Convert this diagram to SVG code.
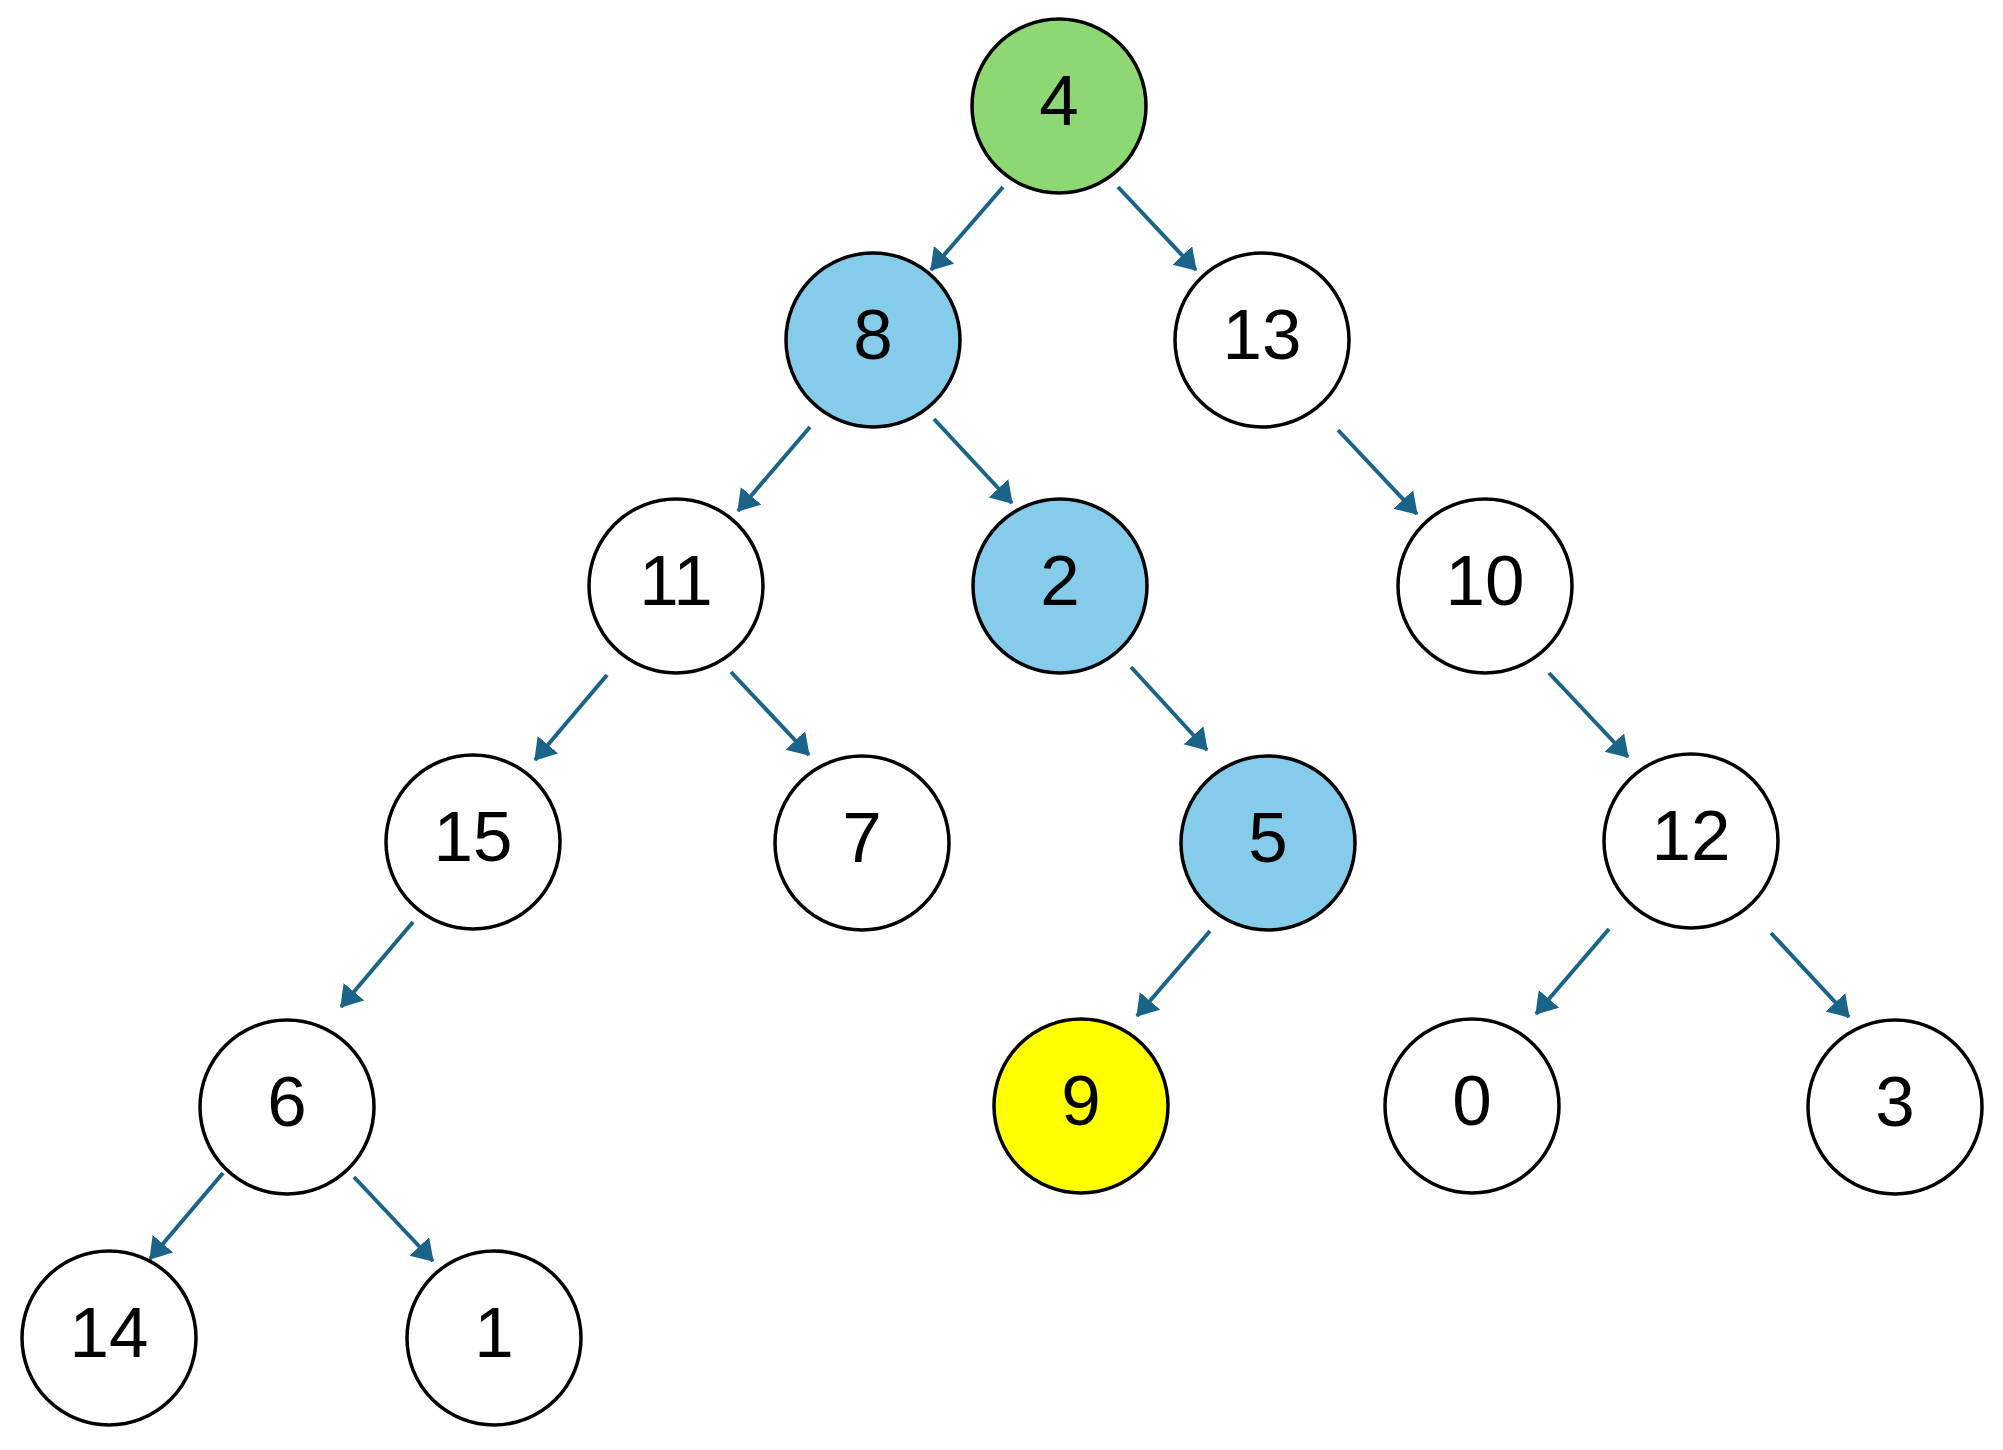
<svg xmlns="http://www.w3.org/2000/svg" width="2003" height="1450" viewBox="0 0 2003 1450">
<style>
.n{stroke:#000;stroke-width:3.5}
.w{fill:#fff}
.g{fill:#8ed873}
.b{fill:#85cbea}
.y{fill:#ffff00}
.t{font-family:"Liberation Sans",Arial,sans-serif;font-size:71px;text-anchor:middle;fill:#000}
.e{stroke:#1a6389;stroke-width:4;fill:none;marker-end:url(#ah)}
</style>
<defs>
<marker id="ah" markerUnits="userSpaceOnUse" markerWidth="22" markerHeight="28" refX="20" refY="13.5" orient="auto">
<path d="M0,0 L21,13.5 L0,27 Z" fill="#1a6389"/>
</marker>
</defs>
<rect width="2003" height="1450" fill="#fff"/>
<g id="edges">
<line class="e" x1="1003" y1="187" x2="931" y2="270"/>
<line class="e" x1="1118" y1="187" x2="1196" y2="270"/>
<line class="e" x1="810" y1="427" x2="738" y2="511"/>
<line class="e" x1="934" y1="419" x2="1012" y2="503"/>
<line class="e" x1="1338" y1="430" x2="1417" y2="514"/>
<line class="e" x1="607" y1="675" x2="535" y2="760"/>
<line class="e" x1="731" y1="672" x2="809" y2="755"/>
<line class="e" x1="1131" y1="667" x2="1207" y2="750"/>
<line class="e" x1="1549" y1="673" x2="1628" y2="757"/>
<line class="e" x1="413" y1="922" x2="341" y2="1007"/>
<line class="e" x1="1210" y1="931" x2="1137" y2="1016"/>
<line class="e" x1="1609" y1="929" x2="1536" y2="1014"/>
<line class="e" x1="1771" y1="933" x2="1849" y2="1017"/>
<line class="e" x1="223" y1="1173" x2="150" y2="1259"/>
<line class="e" x1="354" y1="1177" x2="433" y2="1261"/>
</g>
<g id="n4"><circle class="n g" cx="1059" cy="106" r="87"/><text class="t" x="1059" y="125">4</text></g>
<g id="n8"><circle class="n b" cx="873" cy="340" r="87"/><text class="t" x="873" y="359">8</text></g>
<g id="n13"><circle class="n w" cx="1262" cy="340" r="87"/><text class="t" x="1262" y="359">13</text></g>
<g id="n11"><circle class="n w" cx="676" cy="586" r="87"/><text class="t" x="676" y="605">11</text></g>
<g id="n2"><circle class="n b" cx="1060" cy="586" r="87"/><text class="t" x="1060" y="605">2</text></g>
<g id="n10"><circle class="n w" cx="1485" cy="586" r="87"/><text class="t" x="1485" y="605">10</text></g>
<g id="n15"><circle class="n w" cx="473" cy="842" r="87"/><text class="t" x="473" y="861">15</text></g>
<g id="n7"><circle class="n w" cx="862" cy="843" r="87"/><text class="t" x="862" y="862">7</text></g>
<g id="n5"><circle class="n b" cx="1268" cy="843" r="87"/><text class="t" x="1268" y="862">5</text></g>
<g id="n12"><circle class="n w" cx="1691" cy="841" r="87"/><text class="t" x="1691" y="860">12</text></g>
<g id="n6"><circle class="n w" cx="287" cy="1107" r="87"/><text class="t" x="287" y="1126">6</text></g>
<g id="n9"><circle class="n y" cx="1081" cy="1106" r="87"/><text class="t" x="1081" y="1125">9</text></g>
<g id="n0"><circle class="n w" cx="1472" cy="1106" r="87"/><text class="t" x="1472" y="1125">0</text></g>
<g id="n3"><circle class="n w" cx="1895" cy="1107" r="87"/><text class="t" x="1895" y="1126">3</text></g>
<g id="n14"><circle class="n w" cx="109" cy="1338" r="87"/><text class="t" x="109" y="1357">14</text></g>
<g id="n1"><circle class="n w" cx="494" cy="1338" r="87"/><text class="t" x="494" y="1357">1</text></g>
</svg>
